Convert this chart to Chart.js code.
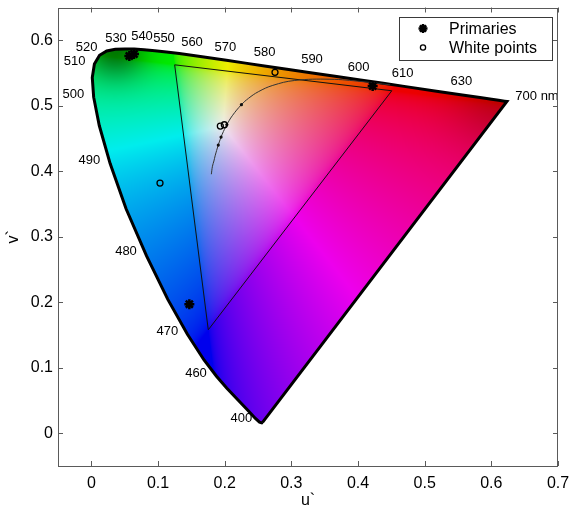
<!DOCTYPE html>
<html>
<head>
<meta charset="utf-8">
<script src="https://cdn.jsdelivr.net/npm/chart.js@4.4.1/dist/chart.umd.min.js"></script>
<style>
  html, body { margin: 0; padding: 0; background: #fff; }
  #wrap { width: 569px; height: 510px; }
</style>
</head>
<body>
<div id="wrap"><canvas id="chromaChart" width="569" height="510"></canvas></div>
<script>
// spectral locus (CIE 1976 u'v'), wavelength in nm
const locusNm = [380, 400, 410, 420, 430, 440, 450, 455, 460, 465, 470, 475, 480, 485, 490, 495, 500, 505, 510, 515, 520, 525, 530, 535, 540, 545, 550, 555, 560, 565, 570, 575, 580, 585, 590, 595, 600, 605, 610, 620, 630, 640, 650, 660, 680, 700];
const locusU = [0.2568, 0.2557, 0.2545, 0.2522, 0.2461, 0.2347, 0.2161, 0.2033, 0.1877, 0.1690, 0.1441, 0.1147, 0.0828, 0.0521, 0.0282, 0.0119, 0.0035, 0.0014, 0.0046, 0.0123, 0.0231, 0.0360, 0.0501, 0.0643, 0.0792, 0.0953, 0.1127, 0.1319, 0.1531, 0.1766, 0.2026, 0.2312, 0.2623, 0.2960, 0.3315, 0.3681, 0.4035, 0.4379, 0.4692, 0.5203, 0.5565, 0.5830, 0.6005, 0.6109, 0.6199, 0.6234];
const locusV = [0.0166, 0.0159, 0.0159, 0.0169, 0.0226, 0.0350, 0.0549, 0.0688, 0.0871, 0.1119, 0.1510, 0.2044, 0.2708, 0.3427, 0.4117, 0.4698, 0.5131, 0.5432, 0.5638, 0.5770, 0.5837, 0.5861, 0.5868, 0.5865, 0.5856, 0.5841, 0.5821, 0.5796, 0.5766, 0.5732, 0.5694, 0.5651, 0.5604, 0.5554, 0.5501, 0.5446, 0.5393, 0.5342, 0.5296, 0.5219, 0.5165, 0.5125, 0.5099, 0.5084, 0.5070, 0.5065];

// display gamut triangle (R, G, B)
const gamutU = [0.4507, 0.1250, 0.1754];
const gamutV = [0.5229, 0.5625, 0.1579];

// black body locus, K
const planckK = [1000, 1200, 1500, 2000, 2500, 3000, 3500, 4000, 5000, 6000, 7000, 8000, 10000, 15000, 20000, 40000, Infinity];
const planckU = [0.4481, 0.4060, 0.3579, 0.3051, 0.2722, 0.2505, 0.2357, 0.2251, 0.2114, 0.2033, 0.1981, 0.1946, 0.1904, 0.1857, 0.1839, 0.1817, 0.1800];
const planckV = [0.5319, 0.5369, 0.5405, 0.5386, 0.5311, 0.5214, 0.5113, 0.5016, 0.4847, 0.4712, 0.4606, 0.4521, 0.4399, 0.4236, 0.4157, 0.4077, 0.3954];
const planckMarkK = [4000, 6000, 8000, 10000];

const primU = [0.057, 0.064, 0.422, 0.147];
const primV = [0.576, 0.579, 0.530, 0.197];

const whiteU = [0.103, 0.2755, 0.1935, 0.1995];
const whiteV = [0.382, 0.551, 0.469, 0.471];

// wavelength annotations
const nmText = ['400', '460', '470', '480', '490', '500', '510', '520', '530', '540', '550', '560', '570', '580', '590', '600', '610', '630', '700 nm'];
const nmU = [0.225, 0.157, 0.114, 0.052, -0.003, -0.027, -0.025, -0.007, 0.037, 0.076, 0.109, 0.151, 0.201, 0.260, 0.331, 0.401, 0.467, 0.555, 0.636];
const nmV = [0.022, 0.092, 0.156, 0.277, 0.417, 0.518, 0.568, 0.589, 0.603, 0.606, 0.603, 0.597, 0.589, 0.582, 0.571, 0.559, 0.550, 0.537, 0.515];

const uTicks = [0, 0.1, 0.2, 0.3, 0.4, 0.5, 0.6, 0.7];
const vTicks = [0, 0.1, 0.2, 0.3, 0.4, 0.5, 0.6];

const FONT = '"Liberation Sans", Arial, Helvetica, sans-serif';

const toPts = (us, vs) => us.map((u, i) => ({ x: u, y: vs[i] }));
const locusPts = toPts(locusU, locusV);
locusPts.push({ x: locusU[0], y: locusV[0] });
const gamutPts = toPts(gamutU, gamutV);
gamutPts.push({ x: gamutU[0], y: gamutV[0] });
const planckPts = toPts(planckU, planckV);
const markPts = planckMarkK.map(k => planckPts[planckK.indexOf(k)]);

// u'v' -> display rgb (0..255)
function chromaColour(u, v) {
    const den = 6 * u - 16 * v + 12;
    const cx = 9 * u / den;
    const cy = Math.max(4 * v / den, 1e-4);
    const X = cx / cy, Y = 1, Z = (1 - cx - cy) / cy;
    let r = 3.2406 * X - 1.5372 * Y - 0.4986 * Z;
    let g = -0.9689 * X + 1.8758 * Y + 0.0415 * Z;
    let b = 0.0557 * X - 0.2040 * Y + 1.0570 * Z;
    r = Math.max(r, 0); g = Math.max(g, 0); b = Math.max(b, 0);
    const m = Math.max(r, g, b) || 1;
    const enc = c => {
        c /= m;
        return c <= 0.0031308 ? 12.92 * c : 1.055 * Math.pow(c, 1 / 2.4) - 0.055;
    };
    // darker corners near 525 nm and 700 nm, as in the original rendering
    let shade = 0.93;
    [[525, 0.5, 0.045], [700, 0.2, 0.08]].forEach(([nm, amt, w]) => {
        const k = locusNm.indexOf(nm);
        const d2 = (u - locusU[k]) ** 2 + (v - locusV[k]) ** 2;
        shade *= 1 - amt * Math.exp(-d2 / (w * w));
    });
    return [enc(r) * 255 * shade, enc(g) * 255 * shade, enc(b) * 255 * shade];
}

const gamutFill = {
    id: 'gamutFill',
    beforeDatasetsDraw(chart) {
        const { ctx, chartArea: a, scales } = chart;
        if (!this.img) {
            const w = Math.round(a.width), h = Math.round(a.height);
            const off = document.createElement('canvas');
            off.width = w; off.height = h;
            const octx = off.getContext('2d');
            const im = octx.createImageData(w, h);
            for (let j = 0; j < h; j++) {
                const v = scales.y.getValueForPixel(a.top + j + 0.5);
                for (let i = 0; i < w; i++) {
                    const u = scales.x.getValueForPixel(a.left + i + 0.5);
                    const c = chromaColour(u, v);
                    const p = (j * w + i) * 4;
                    im.data[p] = c[0]; im.data[p + 1] = c[1]; im.data[p + 2] = c[2]; im.data[p + 3] = 255;
                }
            }
            octx.putImageData(im, 0, 0);
            this.img = off;
        }
        const pts = chart.getDatasetMeta(0).data;
        ctx.save();
        ctx.beginPath();
        pts.forEach((p, i) => i ? ctx.lineTo(p.x, p.y) : ctx.moveTo(p.x, p.y));
        ctx.closePath();
        ctx.clip();
        ctx.drawImage(this.img, a.left, a.top);
        ctx.restore();
    }
};

// MATLAB-like box with inward ticks
const boxAxes = {
    id: 'boxAxes',
    afterDraw(chart) {
        const { ctx, chartArea: a, scales: { x, y } } = chart;
        ctx.save();
        ctx.strokeStyle = '#5a5a5a';
        ctx.lineWidth = 1;
        ctx.beginPath();
        uTicks.forEach(t => {
            const px = Math.round(x.getPixelForValue(t)) + 0.5;
            ctx.moveTo(px, a.bottom); ctx.lineTo(px, a.bottom - 5);
            ctx.moveTo(px, a.top); ctx.lineTo(px, a.top + 5);
        });
        vTicks.forEach(t => {
            const py = Math.round(y.getPixelForValue(t)) + 0.5;
            ctx.moveTo(a.left, py); ctx.lineTo(a.left + 5, py);
            ctx.moveTo(a.right, py); ctx.lineTo(a.right - 5, py);
        });
        ctx.stroke();
        ctx.strokeRect(Math.round(a.left) + 0.5, Math.round(a.top) + 0.5,
            Math.round(a.width) - 1, Math.round(a.height) - 1);
        ctx.restore();
    }
};

const nmLabels = {
    id: 'nmLabels',
    afterDatasetsDraw(chart) {
        const { ctx, scales: { x, y } } = chart;
        ctx.save();
        ctx.font = '13px ' + FONT;
        ctx.fillStyle = '#000';
        ctx.textBaseline = 'middle';
        nmText.forEach((t, i) => {
            ctx.textAlign = t.indexOf('nm') > 0 ? 'left' : 'center';
            ctx.fillText(t, x.getPixelForValue(nmU[i]), y.getPixelForValue(nmV[i]));
        });
        ctx.restore();
    }
};

const boxLegend = {
    id: 'boxLegend',
    afterDraw(chart) {
        const { ctx, chartArea: a } = chart;
        const w = 153, h = 43;
        const left = a.right - 6 - w, top = a.top + 9;
        ctx.save();
        ctx.fillStyle = '#fff';
        ctx.fillRect(left, top, w, h);
        ctx.strokeStyle = '#3a3a3a';
        ctx.lineWidth = 1;
        ctx.strokeRect(Math.round(left) + 0.5, Math.round(top) + 0.5, w, h);
        const rows = [chart.data.datasets[5], chart.data.datasets[4]];
        ctx.font = '16px ' + FONT;
        ctx.textBaseline = 'middle';
        ctx.textAlign = 'left';
        rows.forEach((ds, i) => {
            const cy = top + 12 + i * 19;
            ctx.strokeStyle = ds.borderColor;
            ctx.fillStyle = ds.backgroundColor;
            ctx.lineWidth = ds.borderWidth;
            Chart.helpers.drawPoint(ctx, {
                pointStyle: ds.pointStyle, radius: ds.legendRadius, borderWidth: ds.borderWidth
            }, left + 24, cy);
            ctx.fillStyle = '#000';
            ctx.fillText(ds.label, left + 50, cy + 1);
        });
        ctx.restore();
    }
};

const ctx = document.getElementById('chromaChart').getContext('2d');
new Chart(ctx, {
    type: 'scatter',
    data: {
        datasets: [
            { label: 'Spectral locus', data: locusPts, showLine: true, borderColor: '#000', borderWidth: 3, pointRadius: 0, tension: 0, order: 5 },
            { label: 'Gamut', data: gamutPts, showLine: true, borderColor: '#111', borderWidth: 1, pointRadius: 0, tension: 0, order: 4 },
            { label: 'Planck', data: planckPts, showLine: true, borderColor: '#333', borderWidth: 1, pointRadius: 0, tension: 0.4, order: 3 },
            { label: 'Planck marks', data: markPts, pointRadius: 1.6, backgroundColor: '#111', borderWidth: 0, order: 2 },
            { label: 'White points', data: toPts(whiteU, whiteV), pointStyle: 'circle', pointRadius: 3, legendRadius: 2.6,
              borderColor: '#000', backgroundColor: 'rgba(0,0,0,0)', borderWidth: 1.3, order: 1 },
            { label: 'Primaries', data: toPts(primU, primV), pointStyle: 'star', pointRadius: 5, legendRadius: 4.5,
              borderColor: '#000', backgroundColor: '#000', borderWidth: 2.5, order: 0 }
        ]
    },
    options: {
        responsive: false,
        animation: false,
        layout: { padding: { top: 7, right: 11, left: 0, bottom: 0 } },
        plugins: { legend: { display: false }, tooltip: { enabled: false } },
        scales: {
            x: {
                type: 'linear', min: -0.05, max: 0.7,
                afterBuildTicks: s => { s.ticks = uTicks.map(v => ({ value: v })); },
                afterFit: s => { s.height = 44; s.paddingLeft = 0; s.paddingRight = 0; },
                grid: { display: false, drawTicks: false },
                border: { display: false },
                ticks: {
                    color: '#000', padding: 8, maxRotation: 0, autoSkip: false,
                    font: { family: FONT, size: 16 },
                    callback: v => v === 0 ? '0' : v.toFixed(1)
                },
                title: { display: true, text: 'u`', color: '#000', font: { family: FONT, size: 16 }, padding: { top: 0, bottom: 0 } }
            },
            y: {
                type: 'linear', min: -0.05, max: 0.65,
                afterBuildTicks: s => { s.ticks = vTicks.map(v => ({ value: v })); },
                afterFit: s => { s.width = 58; s.paddingTop = 0; s.paddingBottom = 0; },
                grid: { display: false, drawTicks: false },
                border: { display: false },
                ticks: {
                    color: '#000', padding: 5, autoSkip: false,
                    font: { family: FONT, size: 16 },
                    callback: v => v === 0 ? '0' : v.toFixed(1)
                },
                title: { display: true, text: 'v`', color: '#000', font: { family: FONT, size: 16 }, padding: { top: 4, bottom: 0 } }
            }
        }
    },
    plugins: [gamutFill, nmLabels, boxAxes, boxLegend]
});
</script>
</body>
</html>
